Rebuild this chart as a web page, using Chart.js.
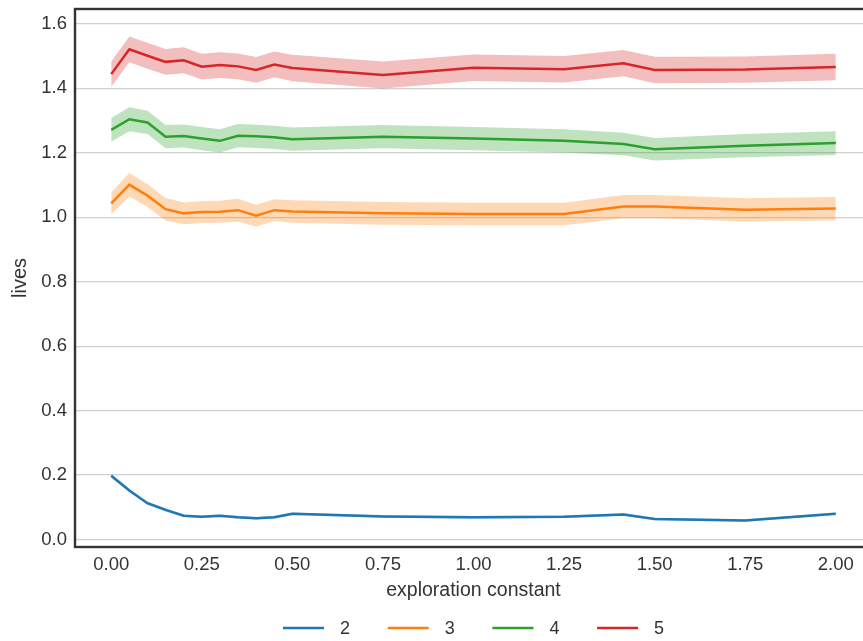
<!DOCTYPE html>
<html>
<head>
<meta charset="utf-8">
<script src="https://cdn.jsdelivr.net/npm/chart.js@4/dist/chart.umd.min.js"></script>
<style>
html,body{margin:0;padding:0;background:#fff;overflow:hidden;}
#wrap{width:863px;height:641px;overflow:hidden;position:relative;}
canvas{display:block;}
</style>
</head>
<body>
<div id="wrap"><canvas id="c" width="880" height="641"></canvas></div>
<script>
const xValues = [0, 0.05, 0.1, 0.15, 0.2, 0.25, 0.3, 0.35, 0.4, 0.45, 0.5, 0.75, 1.0, 1.25, 1.414, 1.5, 1.75, 2.0];
const seriesNames = ['2', '3', '4', '5'];
const lives2 = [0.198, 0.152, 0.113, 0.092, 0.074, 0.071, 0.074, 0.069, 0.066, 0.069, 0.080, 0.072, 0.069, 0.071, 0.078, 0.064, 0.059, 0.080];
const lives3 = [1.043, 1.101, 1.067, 1.025, 1.012, 1.016, 1.017, 1.022, 1.005, 1.022, 1.018, 1.012, 1.010, 1.010, 1.033, 1.033, 1.023, 1.027];
const lives4 = [1.271, 1.304, 1.294, 1.250, 1.252, 1.244, 1.237, 1.253, 1.251, 1.248, 1.242, 1.250, 1.244, 1.237, 1.227, 1.211, 1.222, 1.230];
const lives5 = [1.444, 1.521, 1.501, 1.482, 1.487, 1.467, 1.472, 1.468, 1.457, 1.474, 1.463, 1.441, 1.464, 1.459, 1.478, 1.457, 1.458, 1.466];
const err2 = [0.006, 0.005, 0.005, 0.005, 0.004, 0.004, 0.004, 0.004, 0.004, 0.004, 0.004, 0.004, 0.004, 0.004, 0.004, 0.004, 0.004, 0.004];
const err3 = [0.034, 0.036, 0.035, 0.035, 0.034, 0.034, 0.034, 0.035, 0.034, 0.034, 0.035, 0.035, 0.035, 0.035, 0.036, 0.036, 0.036, 0.036];
const err4 = [0.037, 0.037, 0.036, 0.036, 0.036, 0.036, 0.036, 0.036, 0.036, 0.036, 0.036, 0.036, 0.036, 0.036, 0.035, 0.035, 0.036, 0.037];
const err5 = [0.039, 0.040, 0.040, 0.040, 0.040, 0.040, 0.040, 0.040, 0.040, 0.040, 0.041, 0.042, 0.041, 0.041, 0.041, 0.041, 0.041, 0.041];
const xTicks = [0, 0.25, 0.5, 0.75, 1.0, 1.25, 1.5, 1.75, 2.0];
const yTicks = [0, 0.2, 0.4, 0.6, 0.8, 1.0, 1.2, 1.4, 1.6];
const colors = ['#1f77b4', '#ff7f0e', '#2ca02c', '#d62728'];
const bandColors = ['rgba(31,119,180,0.3)', 'rgba(255,127,14,0.3)', 'rgba(44,160,44,0.3)', 'rgba(214,39,40,0.3)'];

const allMeans = [lives2, lives3, lives4, lives5];
const allErr = [err2, err3, err4, err5];
const FONT = "'Liberation Sans', Arial, sans-serif";

const datasets = [];
allMeans.forEach((m, i) => {
  datasets.push({
    label: seriesNames[i], isLine: true,
    data: xValues.map((x, j) => ({x: x, y: m[j]})),
    borderColor: colors[i], borderWidth: 2.5, pointRadius: 0, fill: false, tension: 0
  });
});
allMeans.forEach((m, i) => {
  datasets.push({
    label: 'band' + seriesNames[i],
    data: xValues.map((x, j) => ({x: x, y: m[j] + allErr[i][j]})),
    borderWidth: 0, pointRadius: 0, backgroundColor: bandColors[i], fill: '+1', tension: 0
  });
  datasets.push({
    label: 'bandlow' + seriesNames[i],
    data: xValues.map((x, j) => ({x: x, y: m[j] - allErr[i][j]})),
    borderWidth: 0, pointRadius: 0, fill: false, tension: 0
  });
});

const framePlugin = {
  id: 'frame',
  afterDraw(chart) {
    const {ctx, chartArea: a} = chart;
    ctx.save();
    ctx.strokeStyle = '#333333';
    ctx.lineWidth = 2.4;
    ctx.strokeRect(a.left, a.top, a.right - a.left, a.bottom - a.top);
    ctx.restore();
    // legend
    const lineItems = chart.data.datasets.filter(d => d.isLine);
    const itemStep = 104.7, lineLen = 41, gap = 16;
    const startX = 283, cy = 628;
    ctx.save();
    ctx.font = '18px ' + FONT;
    ctx.textBaseline = 'middle';
    ctx.fillStyle = '#333333';
    lineItems.forEach((d, i) => {
      const x0 = startX + i * itemStep;
      ctx.strokeStyle = d.borderColor;
      ctx.lineWidth = 2.5;
      ctx.beginPath();
      ctx.moveTo(x0, cy);
      ctx.lineTo(x0 + lineLen, cy);
      ctx.stroke();
      ctx.fillText(d.label, x0 + lineLen + gap, cy + 1);
    });
    ctx.restore();
  }
};

new Chart(document.getElementById('c'), {
  type: 'line',
  data: {datasets: datasets},
  plugins: [framePlugin],
  options: {
    responsive: false,
    animation: false,
    devicePixelRatio: 1,
    layout: {padding: {left: 0, right: 8, top: 9, bottom: 30}},
    plugins: {legend: {display: false}, tooltip: {enabled: false}},
    scales: {
      x: {
        type: 'linear', min: -0.1, max: 2.1,
        afterBuildTicks: s => { s.ticks = xTicks.map(v => ({value: v})); },
        afterFit: s => { s.height = 641 - 30 - 547; s.paddingLeft = 0; s.paddingRight = 0; },
        grid: {display: false, drawTicks: false},
        border: {display: false},
        ticks: {padding: 7, color: '#333', font: {family: FONT, size: 18.5}, callback: v => Number(v).toFixed(2), maxRotation: 0, autoSkip: false},
        title: {display: true, text: 'exploration constant', color: '#333', font: {family: FONT, size: 19.5}, padding: {top: 0, bottom: 9}}
      },
      y: {
        type: 'linear', min: -0.023, max: 1.646,
        afterBuildTicks: s => { s.ticks = yTicks.map(v => ({value: v})); },
        afterFit: s => { s.width = 75; s.paddingTop = 0; s.paddingBottom = 0; },
        grid: {color: '#d0d0d0', lineWidth: 1.3, drawTicks: false},
        border: {display: false},
        ticks: {padding: 8, color: '#333', font: {family: FONT, size: 18.5}, callback: v => Number(v).toFixed(1), autoSkip: false},
        title: {display: true, text: 'lives', color: '#333', font: {family: FONT, size: 20}, padding: {top: 8, bottom: 0}}
      }
    }
  }
});
</script>
</body>
</html>
